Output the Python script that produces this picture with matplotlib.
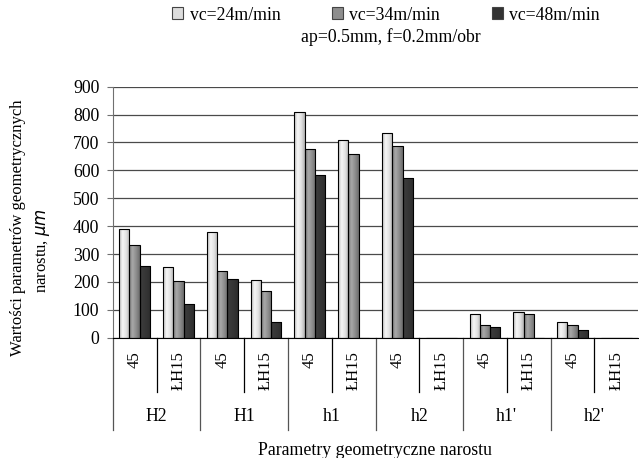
import numpy as np
import matplotlib
matplotlib.use("Agg")
import matplotlib.pyplot as plt
import matplotlib.transforms as mtransforms
from matplotlib.colors import LinearSegmentedColormap
from matplotlib.patches import Patch

plt.rcParams['font.family'] = ['Liberation Serif', 'DejaVu Serif']
fs = 12.8   # horizontal text
fs_rot = 12  # rotated text

# Data (0 = no bar)
groups = ['H2', 'H1', 'h1', 'h2', "h1'", "h2'"]
subcats = ['45', 'ŁH15']
series_names = ['vc=24m/min', 'vc=34m/min', 'vc=48m/min']
vc24 = [388, 252, 378, 206, 810, 709, 733, 0, 86, 91, 57, 0]
vc34 = [332, 202, 240, 166, 675, 659, 686, 0, 46, 85, 45, 0]
vc48 = [257, 120, 212, 56, 583, 0, 571, 0, 39, 0, 29, 0]

# shading per series (left -> right across the bar)
shades = [['#bcbcbc', '#f6f6f6', '#e2e2e2', '#b2b2b2'],
          ['#7e7e7e', '#a8a8a8', '#8c8c8c', '#6c6c6c'],
          ['#3e3e3e', '#363636', '#2c2c2c']]
legend_colors = ['#dcdcdc', '#8e8e8e', '#333333']

fig = plt.figure(figsize=(6.39, 4.58), dpi=100)
ax = fig.add_axes([0.1764, 0.2627, 0.8225, 0.548])

x = np.arange(len(vc24))
bw = 0.235
grad = np.linspace(0, 1, 64).reshape(1, -1)
for k, vals in enumerate([vc24, vc34, vc48]):
    cmap = LinearSegmentedColormap.from_list('s%d' % k, shades[k])
    bars = ax.bar(x + (k - 1) * bw, vals, bw, facecolor='none',
                  edgecolor='black', linewidth=0.8, zorder=3)
    for p, v in zip(bars.patches, vals):
        if v <= 0:
            continue
        im = ax.imshow(grad, cmap=cmap, aspect='auto', zorder=2,
                       extent=[p.get_x(), p.get_x() + p.get_width(), 0, v])
        im.set_clip_path(p)

ax.set_xlim(-0.5, len(x) - 0.5)
ax.set_ylim(0, 900)
ax.set_yticks(np.arange(0, 901, 100))
ax.yaxis.grid(True, color='#4a4a4a', linewidth=0.9)
ax.set_axisbelow(True)
for s in ['top', 'right']:
    ax.spines[s].set_visible(False)
ax.spines['left'].set_color('#707070')
ax.spines['bottom'].set_color('black')
ax.tick_params(axis='y', direction='out', length=4.3, labelsize=fs,
               color='#707070', pad=5.3)

ax.set_xticks(x)
ax.set_xticklabels(subcats * len(groups), rotation=90, fontsize=fs_rot)
ax.tick_params(axis='x', length=0, pad=10)

trans = mtransforms.blended_transform_factory(ax.transData, ax.transAxes)
for g, name in enumerate(groups):
    left = 2 * g - 0.5
    ax.plot([left, left], [0, -0.367], transform=trans, color='#555555',
            lw=0.9, clip_on=False)
    ax.plot([left + 1, left + 1], [0, -0.215], transform=trans,
            color='black', lw=0.9, clip_on=False)
    ax.text(2 * g + 0.5, -0.316, name, transform=trans, ha='center',
            va='center', fontsize=fs)

handles = [Patch(facecolor=c, edgecolor='#444444', linewidth=0.8)
           for c in legend_colors]
fig.legend(handles, series_names, loc='center', ncol=3, frameon=False,
           bbox_to_anchor=(386 / 639, 1 - 15 / 458), fontsize=fs,
           handlelength=0.62, handleheight=0.62, handletextpad=0.36,
           columnspacing=2.9)
fig.text(391 / 639, 1 - 37 / 458, 'ap=0.5mm, f=0.2mm/obr', ha='center',
         va='center', fontsize=fs)

fig.text(18 / 639, 0.502, 'Wartości parametrów geometrycznych', rotation=90,
         ha='center', va='center', fontsize=fs_rot)
fig.text(43 / 639, 0.452, 'narostu, $\\mu m$', rotation=90,
         ha='center', va='center', fontsize=fs_rot)
fig.text(375 / 639, 1 - 455 / 458, 'Parametry geometryczne narostu',
         ha='center', va='baseline', fontsize=fs)

fig.savefig('out.png', dpi=100)
